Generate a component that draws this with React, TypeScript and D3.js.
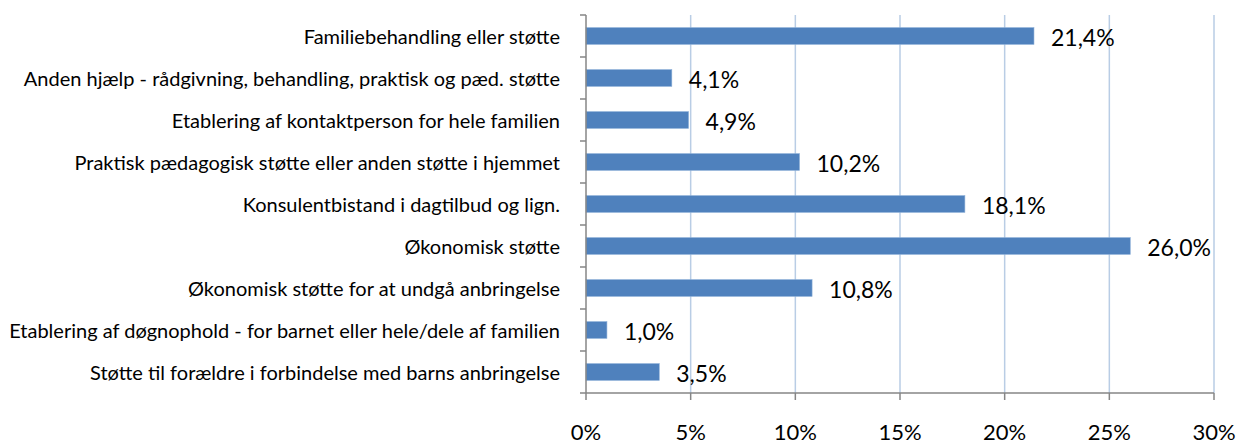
import React, { useEffect, useRef } from 'react';
import * as d3 from 'd3';

const categories = [
  'Familiebehandling eller støtte',
  'Anden hjælp - rådgivning, behandling, praktisk og pæd. støtte',
  'Etablering af kontaktperson for hele familien',
  'Praktisk pædagogisk støtte eller anden støtte i hjemmet',
  'Konsulentbistand i dagtilbud og lign.',
  'Økonomisk støtte',
  'Økonomisk støtte for at undgå anbringelse',
  'Etablering af døgnophold - for barnet eller hele/dele af familien',
  'Støtte til forældre i forbindelse med barns anbringelse',
];
const values = [21.4, 4.1, 4.9, 10.2, 18.1, 26.0, 10.8, 1.0, 3.5];
const xTicks = [0, 5, 10, 15, 20, 25, 30];

const W = 1239;
const H = 445;
const FONT = 'Lato, "Open Sans", sans-serif';

const App: React.FC = () => {
  const svgRef = useRef<SVGSVGElement>(null);

  useEffect(() => {
    if (!svgRef.current) return;
    const svg = d3.select(svgRef.current);
    svg.selectAll('*').remove();

    const left = 586, right = 1214, top = 15, bottom = 393;

    const x = d3.scaleLinear().domain([0, 30]).range([left, right]);
    const y = d3.scaleBand<string>().domain(categories).range([top, bottom]).paddingInner(0.6).paddingOuter(0.3);
    const band = (bottom - top) / categories.length;

    // gridlines
    svg.append('g')
      .selectAll('line')
      .data(xTicks.slice(1))
      .enter().append('line')
      .attr('x1', d => x(d)).attr('x2', d => x(d))
      .attr('y1', top).attr('y2', bottom)
      .attr('stroke', '#b9cde5')
      .attr('stroke-width', 1.5);

    // bars
    svg.append('g')
      .selectAll('rect')
      .data(values)
      .enter().append('rect')
      .attr('x', x(0))
      .attr('y', (d, i) => y(categories[i])!)
      .attr('width', d => x(d) - x(0))
      .attr('height', y.bandwidth())
      .attr('fill', '#4f81bd')
      .attr('stroke', '#8eb0d8')
      .attr('stroke-width', 0.6);

    // value labels
    svg.append('g')
      .selectAll('text')
      .data(values)
      .enter().append('text')
      .attr('x', d => x(d) + 17)
      .attr('y', (d, i) => y(categories[i])! + y.bandwidth() / 2 + 1)
      .attr('dominant-baseline', 'central')
      .style('font-family', FONT)
      .style('font-size', '23px')
      .style('fill', '#000')
      .text(d => d.toFixed(1).replace('.', ',') + '%');

    // axes lines
    const axisColor = '#868686';
    svg.append('line')
      .attr('x1', left).attr('x2', left).attr('y1', top).attr('y2', bottom)
      .attr('stroke', axisColor).attr('stroke-width', 1.5);
    svg.append('line')
      .attr('x1', left).attr('x2', right).attr('y1', bottom).attr('y2', bottom)
      .attr('stroke', axisColor).attr('stroke-width', 1.5);

    // y tick marks at band boundaries
    svg.append('g')
      .selectAll('line')
      .data(d3.range(categories.length + 1))
      .enter().append('line')
      .attr('x1', left - 6).attr('x2', left)
      .attr('y1', i => top + i * band).attr('y2', i => top + i * band)
      .attr('stroke', axisColor).attr('stroke-width', 1.5);

    // x tick marks
    svg.append('g')
      .selectAll('line')
      .data(xTicks)
      .enter().append('line')
      .attr('x1', d => x(d)).attr('x2', d => x(d))
      .attr('y1', bottom).attr('y2', bottom + 7)
      .attr('stroke', axisColor).attr('stroke-width', 1.5);

    // x tick labels
    svg.append('g')
      .selectAll('text')
      .data(xTicks)
      .enter().append('text')
      .attr('x', d => x(d))
      .attr('y', 440)
      .attr('text-anchor', 'middle')
      .style('font-family', FONT)
      .style('font-size', '22px')
      .style('fill', '#000')
      .text(d => d + '%');

    // category labels
    svg.append('g')
      .selectAll('text')
      .data(categories)
      .enter().append('text')
      .attr('x', 560)
      .attr('y', d => y(d)! + y.bandwidth() / 2)
      .attr('text-anchor', 'end')
      .attr('dominant-baseline', 'central')
      .style('font-family', FONT)
      .style('font-size', '20px')
      .style('fill', '#000')
      .text(d => d);
  }, []);

  return (
    <svg
      ref={svgRef}
      width={W}
      height={H}
      style={{ position: 'absolute', left: 0, top: 0, background: '#fff' }}
    />
  );
};

export default App;
